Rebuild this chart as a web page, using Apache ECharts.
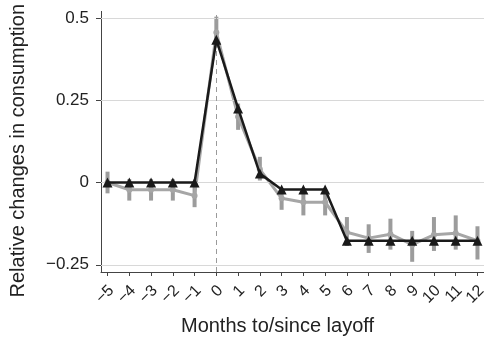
<!DOCTYPE html>
<html>
<head>
<meta charset="utf-8">
<script src="https://cdn.jsdelivr.net/npm/echarts@6/dist/echarts.min.js"></script>
<style>
  html, body { margin: 0; padding: 0; background: #fff; }
  #chart { width: 484px; height: 341px; }
</style>
</head>
<body>
<div id="chart"></div>
<script>
// Months relative to layoff
const months = [-5, -4, -3, -2, -1, 0, 1, 2, 3, 4, 5, 6, 7, 8, 9, 10, 11, 12];
// Black series: estimated consumption change
const blackSeries = [0, 0, 0, 0, 0, 0.434, 0.225, 0.027, -0.021, -0.021, -0.021, -0.177, -0.177, -0.177, -0.177, -0.177, -0.177, -0.177];
// Gray series: point estimates with confidence bounds
const graySeries = [0, -0.022, -0.022, -0.022, -0.04, 0.456, 0.2, 0.04, -0.048, -0.06, -0.06, -0.151, -0.169, -0.157, -0.189, -0.159, -0.154, -0.177];
const grayLow = [-0.033, -0.055, -0.055, -0.055, -0.075, 0.41, 0.16, 0.006, -0.083, -0.1, -0.1, -0.193, -0.214, -0.204, -0.241, -0.208, -0.204, -0.234];
const grayHigh = [0.033, 0.01, 0.01, 0.01, -0.005, 0.504, 0.24, 0.078, -0.023, -0.023, -0.02, -0.105, -0.127, -0.11, -0.147, -0.105, -0.1, -0.133];
// Axis ticks
const yTicks = [-0.25, 0, 0.25, 0.5];
const xTicks = months;

const Y_MIN = -0.272;
const Y_MAX = 0.52;

const fmtNum = v => (v < 0 ? '\u2212' + String(-v) : String(v));
const font = '"Liberation Sans", Arial, Helvetica, sans-serif';

const chart = echarts.init(document.getElementById('chart'), null, { renderer: 'canvas' });

chart.setOption({
  animation: false,
  backgroundColor: '#ffffff',
  grid: { left: 101, right: 0, top: 11.4, bottom: 66.7, containLabel: false },
  xAxis: {
    type: 'value',
    min: -5.3,
    max: 12.3,
    name: 'Months to/since layoff',
    nameLocation: 'middle',
    nameGap: 44,
    nameTextStyle: { fontFamily: font, fontSize: 20, color: '#222', padding: [0, 30, 0, 0] },
    axisLine: { show: true, onZero: false, lineStyle: { color: '#444', width: 1 } },
    axisTick: { show: true, length: 4, customValues: xTicks, lineStyle: { color: '#444' } },
    // tick labels are drawn by the slanted-label series below
    axisLabel: { show: false },
    splitLine: { show: false }
  },
  yAxis: {
    type: 'value',
    min: Y_MIN,
    max: Y_MAX,
    name: 'Relative changes in consumption',
    nameLocation: 'middle',
    nameGap: 73,
    nameTextStyle: { fontFamily: font, fontSize: 20, color: '#222', padding: [0, 18, 0, 0] },
    axisLine: { show: true, onZero: false, lineStyle: { color: '#444', width: 1 } },
    axisTick: { show: true, length: 5, customValues: yTicks, lineStyle: { color: '#444' } },
    axisLabel: {
      customValues: yTicks,
      margin: 12,
      fontFamily: font,
      fontSize: 17,
      color: '#222',
      formatter: v => fmtNum(v)
    },
    splitLine: { show: false }
  },
  series: [
    {
      // horizontal gridlines and the layoff marker
      type: 'line',
      data: [],
      silent: true,
      markLine: {
        silent: true,
        symbol: 'none',
        label: { show: false },
        data: yTicks.map(t => ({ yAxis: t, lineStyle: { color: '#d8d8d8', width: 1, type: 'solid' } }))
          .concat([{ xAxis: 0, lineStyle: { color: '#9a9a9a', width: 1, type: [5, 4] } }])
      }
    },
    {
      // slanted month labels under the x axis
      type: 'custom',
      silent: true,
      clip: false,
      z: 2,
      data: xTicks.map(m => [m, Y_MIN]),
      renderItem: (params, api) => {
        const p = api.coord([api.value(0), api.value(1)]);
        return {
          type: 'text',
          x: p[0] + 4,
          y: p[1] + 16,
          rotation: Math.PI / 4,
          style: {
            text: fmtNum(api.value(0)),
            align: 'right',
            verticalAlign: 'middle',
            font: '16px ' + font,
            fill: '#222'
          }
        };
      }
    },
    {
      // confidence intervals of the gray series
      type: 'custom',
      silent: true,
      z: 3,
      data: months.map((m, i) => [m, grayLow[i], grayHigh[i]]),
      renderItem: (params, api) => {
        const lo = api.coord([api.value(0), api.value(1)]);
        const hi = api.coord([api.value(0), api.value(2)]);
        return {
          type: 'rect',
          shape: { x: lo[0] - 2, y: hi[1], width: 4, height: lo[1] - hi[1] },
          style: { fill: '#9c9c9c' }
        };
      }
    },
    {
      type: 'line',
      z: 4,
      data: months.map((m, i) => [m, graySeries[i]]),
      symbol: 'circle',
      symbolSize: 6,
      itemStyle: { color: '#a6a6a6' },
      lineStyle: { color: '#a6a6a6', width: 3 }
    },
    {
      type: 'line',
      z: 5,
      data: months.map((m, i) => [m, blackSeries[i]]),
      symbol: 'triangle',
      symbolSize: 10,
      itemStyle: { color: '#1a1a1a' },
      lineStyle: { color: '#1a1a1a', width: 2.5 }
    }
  ]
});
</script>
</body>
</html>
